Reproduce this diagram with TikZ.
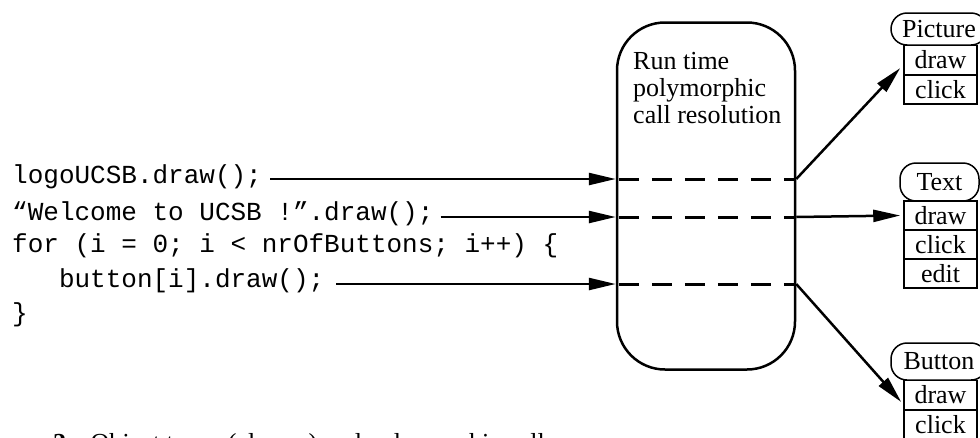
\documentclass[tikz,border=0pt]{standalone}
\usepackage{fontspec}
\setmainfont{Liberation Serif}
\setmonofont{Liberation Mono}
\usetikzlibrary{arrows.meta,calc}

\begin{document}
\begin{tikzpicture}[x=1pt,y=-1pt,
  code/.style={font=\fontsize{26}{34}\selectfont\ttfamily, anchor=base west, inner sep=0pt},
  serif/.style={font=\fontsize{26}{27}\selectfont},
  arr/.style={line width=2.5pt, -{Triangle[length=27pt,width=12pt]}},
  dashline/.style={line width=3pt, dash pattern=on 20pt off 13pt, dash phase=-3pt},
  resolver/.style={draw, rounded corners=48pt, line width=2.5pt, minimum width=178pt, minimum height=347pt, inner sep=0pt},
  pill/.style={draw, rounded corners=16pt, line width=1.5pt, inner sep=0pt, serif},
  member/.style={draw, line width=1.5pt, minimum width=73pt, minimum height=29pt, inner sep=0pt, serif}]

\useasboundingbox (0,0) rectangle (980,437);

% code fragment
\node[code] (l1) at (12,183) {logoUCSB.draw();};
\node[code] (l2) at (12,220) {“Welcome to UCSB !”.draw();};
\node[code] (l3) at (12,252) {for (i = 0; i < nrOfButtons; i++) \{};
\node[code] (l4) at (12,287) {\phantom{xxx}button[i].draw();};
\node[code] (l5) at (12,321) {\}};

% dispatcher
\node[resolver] (rt) at (706,196) {};
\node[serif, anchor=north west, align=left, inner sep=0pt] (rtlabel) at (633,52)
  {Run time\\polymorphic\\call resolution};

\coordinate (a1) at (rt.west |- 0,179);
\coordinate (a2) at (rt.west |- 0,217);
\coordinate (a3) at (rt.west |- 0,284);
\coordinate (b1) at (rt.east |- 0,179);
\coordinate (b2) at (rt.east |- 0,217);
\coordinate (b3) at (rt.east |- 0,284);

\draw[arr] ($(l1.east |- a1)+(8,0)$) -- (a1);
\draw[arr] ($(l2.east |- a2)+(7,0)$) -- (a2);
\draw[arr] ($(l4.east |- a3)+(12,0)$) -- (a3);

\draw[dashline] (a1) -- (b1);
\draw[dashline] (a2) -- (b2);
\draw[dashline] (a3) -- (b3);

% classes
\node[pill, minimum width=96pt, minimum height=32pt] (picture) at (939,29) {Picture};
\node[member] (pdraw) at (940.5,60) {draw};
\node[member] (pclick) at (940.5,89.5) {click};

\node[pill, minimum width=79pt, minimum height=38pt] (text) at (939.5,182) {Text};
\node[member] (tdraw) at (940.5,215.5) {draw};
\node[member] (tclick) at (940.5,244.5) {click};
\node[member] (tedit) at (940.5,273.5) {edit};

\node[pill, minimum width=96pt, minimum height=37pt] (button) at (939,361.5) {Button};
\node[member] (bdraw) at (940.5,395) {draw};
\node[member] (bclick) at (940.5,424.5) {click};

\draw[arr] (b1) -- ($(pdraw.west)+(-3,8)$);
\draw[arr] (b2) -- ($(tdraw.west)+(-3,0)$);
\draw[arr] (b3) -- ($(bdraw.west)+(-2,7)$);

% caption, running off the lower edge
\node[serif, anchor=base west, inner sep=0pt] (caption) at (53,451)
  {\textbf{2.}\hspace{18pt}Object types (classes) and polymorphic calls};
\end{tikzpicture}
\end{document}
